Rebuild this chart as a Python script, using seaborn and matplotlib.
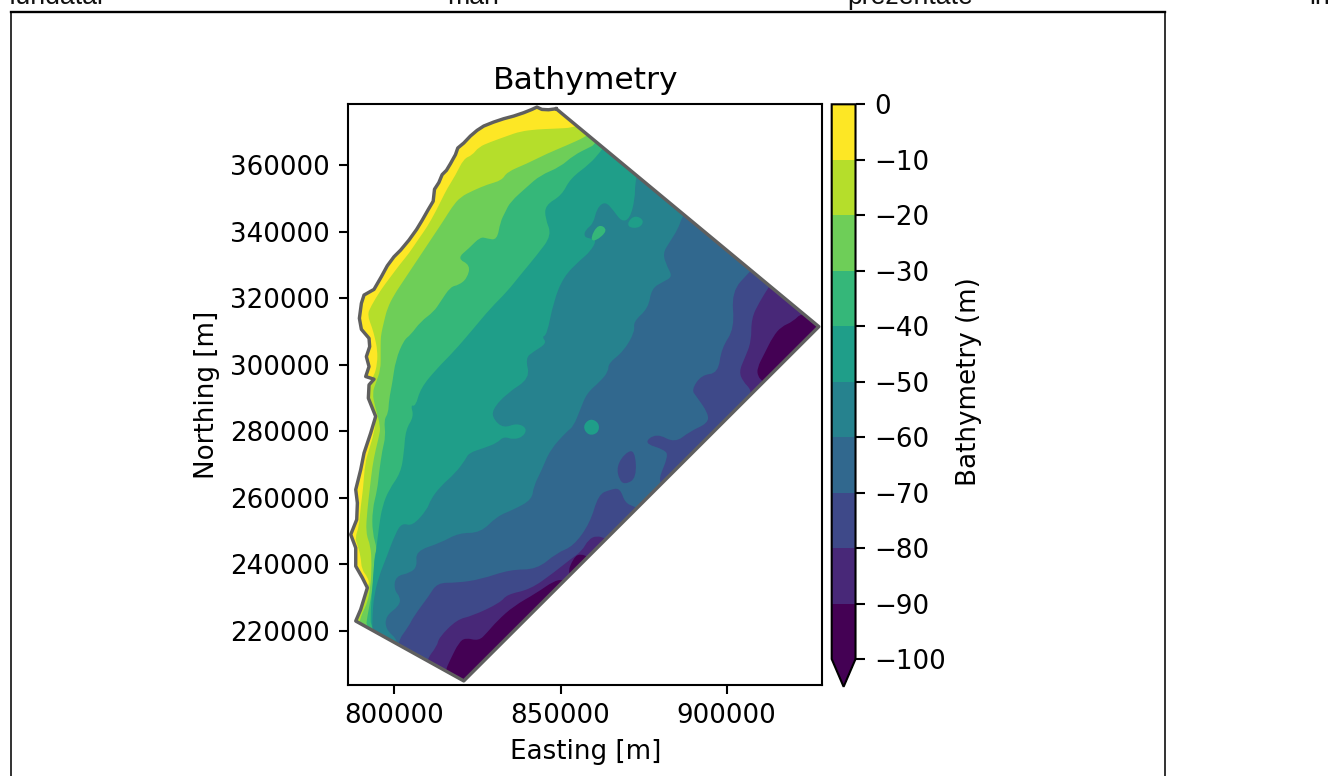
import numpy as np
import seaborn as sns
import matplotlib.pyplot as plt
from matplotlib.cm import ScalarMappable
from matplotlib.colors import BoundaryNorm, ListedColormap
from matplotlib.lines import Line2D
from matplotlib.patches import PathPatch, Polygon
from matplotlib.path import Path

# all outlines, easting / northing in km
coast_e = [848.7, 846.4, 844.4, 842.9, 841.4, 838.9, 835.9, 832.9, 829.9, 826.9, 824.9, 822.9, 820.9, 819.1, 818.4,
           816.9, 815.7, 814.4, 813.4, 812.1, 811.7, 810.1, 808.4, 806.7, 804.4, 801.9, 799.9, 797.9, 796.1, 793.9,
           790.9, 790.1, 789.5, 790.1, 792.4, 792.6, 791.6, 792.4, 791.4, 793.9, 792.4, 792.2, 794.4, 792.9, 790.9,
           789.9, 788.4, 788.9, 788.7, 786.9, 788.4, 788.4, 790.4, 791.9, 789.9, 788.4, 820.9, 927.7, 848.7]
coast_n = [376.9, 376.6, 376.7, 377.4, 376.7, 375.7, 374.7, 373.9, 372.9, 371.7, 370.4, 368.7, 366.6, 365.1, 363.1,
           360.4, 358.4, 357.1, 354.7, 352.7, 349.1, 346.4, 343.4, 340.6, 337.4, 334.4, 332.4, 329.7, 326.4, 322.6,
           320.9, 318.4, 313.9, 310.6, 307.9, 305.4, 302.4, 299.4, 296.4, 295.6, 293.9, 289.9, 284.4, 279.4, 273.4,
           268.4, 262.4, 258.4, 253.4, 248.9, 244.9, 239.4, 235.9, 232.9, 226.4, 222.9, 204.9, 311.4, 376.9]

# isobaths, each closed round the outside of the domain
d10_e = [855.9, 853.9, 847.9, 842.9, 837.9, 833.9, 828.9, 825.4, 823.4, 820.9, 818.4, 815.9, 814.4, 812.4, 809.9,
         807.4, 804.4, 801.9, 798.9, 795.9, 792.9, 791.9, 793.4, 794.2, 794.9, 794.9, 793.9, 792.4, 791.4, 792.9,
         794.4, 793.9, 792.4, 791.2, 790.6, 789.9, 789.4, 788.2, 788.9, 789.9, 790.2, 791.9, 792.6, 790.9, 787.9,
         787.0, 815, 940, 940, 860]
d10_n = [372.4, 371.2, 370.9, 370.7, 370.1, 368.7, 366.9, 365.4, 362.9, 361.9, 356.9, 352.9, 349.9, 345.9, 341.4,
         337.9, 333.4, 330.4, 326.4, 322.4, 317.4, 314.9, 310.9, 307.9, 304.4, 300.4, 296.4, 294.9, 291.4, 285.4,
         283.4, 279.4, 274.4, 270.4, 262.4, 257.4, 251.4, 247.9, 245.9, 242.4, 238.4, 236.2, 233.9, 232.4, 224.4,
         221.0, 195, 195, 385, 385]

d20_e = [858.4, 857.4, 851.9, 845.9, 839.9, 833.9, 832.4, 827.9, 823.9, 819.9, 817.4, 814.9, 811.9, 808.9, 805.9,
         802.9, 799.9, 797.9, 796.9, 796.1, 795.9, 795.9, 795.9, 794.4, 793.4, 794.2, 795.9, 795.4, 794.4, 793.4,
         792.6, 791.9, 791.4, 792.9, 793.2, 792.9, 791.9, 790.4, 789.6, 789.4, 815, 940, 940, 860]
d20_n = [369.4, 368.4, 365.9, 363.4, 360.4, 357.9, 355.4, 354.1, 352.4, 350.4, 347.4, 343.4, 338.9, 334.4, 329.9,
         325.4, 320.9, 316.9, 312.9, 309.4, 307.4, 303.4, 298.4, 294.4, 291.4, 287.4, 281.4, 278.4, 274.4, 269.4,
         262.4, 256.4, 249.4, 245.4, 239.9, 233.4, 228.4, 225.4, 222.9, 221.9, 195, 195, 385, 385]

d30_e = [860.9, 859.9, 858.9, 853.9, 849.9, 843.9, 839.9, 834.9, 833.4, 831.9, 830.9, 827.9, 825.9, 822.4, 818.9,
         822.9, 821.9, 819.4, 816.9, 813.9, 811.9, 807.9, 804.9, 802.9, 800.4, 799.4, 798.4, 798.2, 796.9, 797.4,
         796.4, 795.4, 794.9, 793.4, 793.4, 794.9, 793.9, 793.9, 792.9, 791.9, 791.4, 815, 940, 940, 865]
d30_n = [367.4, 365.9, 365.4, 362.9, 359.4, 356.9, 353.4, 348.9, 345.9, 342.9, 337.4, 337.9, 338.4, 334.9, 331.9,
         329.9, 325.9, 323.9, 323.4, 318.9, 315.9, 312.9, 308.9, 307.4, 301.4, 294.4, 289.4, 285.4, 283.4, 278.4,
         274.4, 267.4, 262.4, 256.4, 249.4, 244.4, 242.4, 236.4, 229.4, 224.4, 220.4, 195, 195, 385, 385]

d40_e = [863.4, 861.9, 858.9, 852.9, 850.4, 845.4, 845.4, 847.4, 842.9, 837.9, 833.9, 828.9, 823.9, 817.9, 812.9,
         807.9, 806.4, 804.9, 805.9, 803.4, 802.9, 801.9, 798.4, 796.4, 795.4, 794.6, 793.9, 793.4, 792.9, 792.9,
         815, 940, 940, 870]
d40_n = [365.9, 363.9, 360.4, 355.9, 350.9, 347.9, 343.9, 338.9, 332.9, 326.9, 321.9, 316.9, 310.9, 303.9, 298.9,
         292.9, 287.4, 287.9, 284.4, 280.4, 273.4, 267.4, 262.4, 257.4, 251.4, 244.4, 240.4, 232.4, 226.4, 219.5,
         195, 195, 385, 385]

d50_e = [873.4, 872.4, 872.4, 870.9, 868.4, 865.9, 863.4, 860.9, 859.9, 857.4, 857.1, 858.9, 860.9, 858.9, 855.9,
         850.9, 847.9, 845.9, 844.4, 845.9, 841.9, 839.4, 840.9, 833.9, 829.4, 829.9, 832.9, 836.9, 839.9, 838.9,
         835.9, 832.9, 830.9, 826.9, 822.4, 821.4, 818.4, 813.9, 810.9, 809.9, 805.4, 802.4, 800.4, 797.4, 795.4,
         793.9, 793.4, 793.4, 815, 940, 940, 880]
d50_n = [358.4, 354.4, 349.9, 343.9, 342.9, 346.4, 349.1, 346.9, 342.4, 340.4, 338.4, 337.9, 337.4, 333.9, 331.4,
         326.4, 318.9, 308.9, 308.4, 306.4, 303.9, 301.9, 295.9, 291.4, 286.4, 283.4, 280.9, 282.4, 280.9, 278.4,
         277.4, 278.4, 276.4, 274.9, 273.4, 271.4, 267.4, 263.4, 259.4, 256.4, 251.4, 252.4, 249.4, 241.4, 236.4,
         230.4, 224.4, 218.0, 195, 195, 385, 385]

d60_e = [887.9, 886.4, 885.4, 882.9, 880.7, 882.1, 883.7, 880.9, 877.4, 876.4, 871.9, 872.4, 868.9, 864.4, 864.4,
         861.9, 857.9, 855.9, 853.9, 851.9, 846.9, 844.4, 841.9, 841.4, 835.9, 830.9, 825.9, 819.4, 813.9, 806.4,
         806.9, 804.9, 800.4, 799.9, 801.9, 801.4, 797.4, 797.4, 800.9, 800.4, 815, 940, 940]
d60_n = [346.4, 343.9, 340.9, 336.9, 333.4, 329.4, 326.4, 324.9, 322.9, 316.9, 312.9, 309.9, 303.9, 300.4, 297.9,
         294.9, 291.4, 286.4, 281.4, 279.9, 274.4, 268.4, 263.4, 259.4, 256.4, 254.4, 249.4, 249.4, 246.4, 243.9,
         239.4, 237.4, 236.4, 232.4, 229.9, 227.4, 224.4, 220.4, 217.4, 215.4, 195, 195, 346]

d70a_e = [800.4, 804.4, 805.9, 810.4, 812.9, 818.9, 825.9, 834.9, 842.9, 848.9, 853.9, 858.9, 861.4, 864.9, 867.9,
          869.4, 872.4, 873.9, 880, 800]
d70a_n = [215.9, 221.4, 224.4, 230.4, 234.4, 234.4, 235.4, 238.4, 238.4, 243.4, 245.4, 252.4, 260.9, 262.4, 262.9,
          258.4, 257.2, 256.4, 195, 195]
d70b_e = [880.9, 879.4, 882.4, 881.4, 874.9, 878.9, 884.4, 888.9, 894.4, 894.4, 890.9, 889.4, 892.4, 897.4, 898.4,
          902.4, 901.4, 906.9, 908.4, 945, 945]
d70b_n = [263.9, 265.4, 272.4, 274.4, 276.4, 279.4, 276.4, 279.9, 282.4, 285.4, 290.4, 292.4, 296.9, 297.4, 304.9,
          310.9, 321.9, 327.9, 329.4, 330, 260]
d70c_e = [866.9, 869.4, 872.4, 872.9, 869.4, 867.6]
d70c_n = [269.4, 273.4, 274.4, 265.9, 263.9, 265.4]

d80a_e = [809.4, 812.9, 813.4, 818.9, 823.4, 831.9, 833.9, 840.9, 847.9, 852.9, 856.4, 858.4, 860.9, 863.7, 865.4,
          870, 805]
d80a_n = [210.9, 215.4, 217.9, 223.4, 224.4, 228.4, 230.9, 232.4, 237.4, 241.4, 243.9, 247.4, 248.6, 247.6, 247.4,
          195, 195]
d80b_e = [913.4, 912.4, 909.9, 907.4, 907.4, 905.4, 903.7, 904.9, 907.4, 906.9, 945, 945]
d80b_n = [324.4, 322.9, 318.9, 313.9, 306.9, 301.9, 297.9, 294.9, 292.4, 289.4, 289, 325]

d90a_e = [815.1, 816.9, 819.4, 821.4, 825.4, 827.9, 830.9, 835.9, 842.9, 847.9, 850.7, 851.9, 850, 815]
d90a_n = [207.4, 211.4, 216.4, 217.9, 216.9, 219.4, 222.9, 227.4, 231.4, 234.9, 235.4, 234.9, 195, 195]
d90b_e = [851.9, 853.9, 855.9, 858.9, 860.9, 855.9]
d90b_n = [236.9, 241.9, 243.2, 241.9, 240.4, 234.4]
d90c_e = [922.9, 919.9, 916.4, 913.9, 911.4, 909.1, 909.4, 910.7, 911.9, 945, 945]
d90c_n = [315.9, 312.9, 311.4, 308.4, 303.4, 298.9, 296.4, 295.1, 293.9, 294, 316]

# small closed patches
isle_a_e = [858.9, 861.4, 864.4, 860.4]
isle_a_n = [337.9, 342.4, 340.4, 336.9]
isle_b_e = [870.2, 872.4, 875.2, 873.9, 870.6]
isle_b_n = [342.9, 344.9, 343.4, 341.1, 341.1]
isle_c_e = [856.6, 858.9, 861.7, 861.4, 858.4]
isle_c_n = [281.4, 283.9, 282.4, 279.4, 278.6]

levels = [-100, -90, -80, -70, -60, -50, -40, -30, -20, -10, 0]
x_ticks = [800000, 850000, 900000]
y_ticks = [220000, 240000, 260000, 280000, 300000, 320000, 340000, 360000]

# page text cut off by the crop above the figure
page_words = ['fundatal', 'mari', 'prezentate', 'in']
page_x = [9, 447, 847, 1309]


def band_patch(e, n, color):
    # closed quadratic curve guided by the read points, contours in the reference are smooth
    pts = np.c_[e, n] * 1000.0
    mids = (pts + np.roll(pts, -1, axis=0)) / 2
    verts = [mids[-1]]
    codes = [Path.MOVETO]
    for p, m in zip(pts, mids):
        verts += [p, m]
        codes += [Path.CURVE3, Path.CURVE3]
    return PathPatch(Path(verts, codes), fc=color, ec='none', lw=0)


viridis = sns.color_palette('viridis', as_cmap=True)
cmap = ListedColormap(viridis(np.linspace(0, 1, 10)))
cmap = cmap.with_extremes(under=cmap(0))
norm = BoundaryNorm(levels, 10)

dpi = 188
fig = plt.figure(figsize=(1338 / dpi, 776 / dpi), dpi=dpi)
ax = fig.add_axes([0.2603, 0.1177, 0.3543, 0.7479])

domain = Polygon(np.c_[coast_e, coast_n] * 1000, closed=True, fc=cmap(9), ec='none')
ax.add_patch(domain)

# paint from shallow to deep, every layer clipped to the domain
layers = [
    (8, d10_e, d10_n), (7, d20_e, d20_n), (6, d30_e, d30_n), (5, d40_e, d40_n), (4, d50_e, d50_n),
    (3, d60_e, d60_n), (2, d70a_e, d70a_n), (2, d70b_e, d70b_n), (2, d70c_e, d70c_n),
    (1, d80a_e, d80a_n), (1, d80b_e, d80b_n), (0, d90a_e, d90a_n), (0, d90b_e, d90b_n), (0, d90c_e, d90c_n),
    (6, isle_a_e, isle_a_n), (5, isle_b_e, isle_b_n), (5, isle_c_e, isle_c_n),
]
for band, e, n in layers:
    p = ax.add_patch(band_patch(e, n, cmap(band)))
    p.set_clip_path(domain)

sns.lineplot(x=np.array(coast_e) * 1000, y=np.array(coast_n) * 1000, sort=False, estimator=None,
             color='#5f5f5f', lw=1.3, ax=ax)

ax.set_xlim(786163, 928760)
ax.set_ylim(203773, 378240)
ax.set_xticks(x_ticks)
ax.set_yticks(y_ticks)
ax.ticklabel_format(useOffset=False, style='plain')
ax.set_title('Bathymetry')
ax.set_xlabel('Easting [m]')
ax.set_ylabel('Northing [m]')

cax = fig.add_axes([0.6216, 0.1150, 0.0178, 0.7506])
cb = fig.colorbar(ScalarMappable(norm=norm, cmap=cmap), cax=cax, extend='min', ticks=levels)
cb.set_label('Bathymetry (m)')

# frame of the page around the figure, open at the bottom
fig.add_artist(Line2D([10.5 / 1338, 10.5 / 1338], [0, 1 - 11.5 / 776], color='black', lw=0.6))
fig.add_artist(Line2D([1164.5 / 1338, 1164.5 / 1338], [0, 1 - 11.5 / 776], color='black', lw=0.6))
fig.add_artist(Line2D([10.5 / 1338, 1164.5 / 1338], [1 - 11.5 / 776, 1 - 11.5 / 776], color='black', lw=0.9))

for word, x in zip(page_words, page_x):
    fig.text(x / 1338, 1 - 3.5 / 776, word, family='Liberation Sans', fontsize=10.2, va='baseline', color='#111111')

plt.savefig('out.png', dpi=dpi)
